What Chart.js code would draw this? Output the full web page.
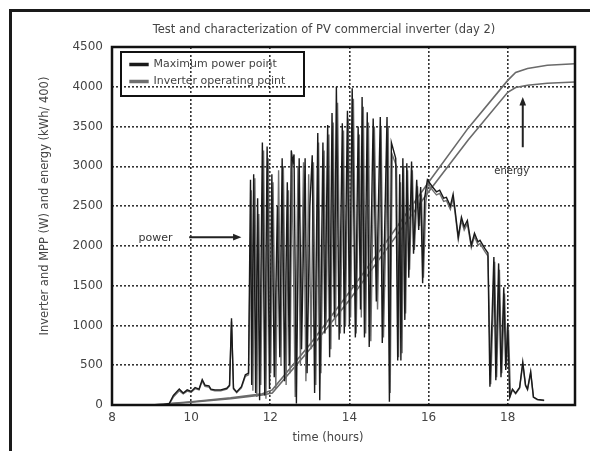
<!DOCTYPE html>
<html>
<head>
<meta charset="utf-8">
<script src="https://cdn.jsdelivr.net/npm/chart.js@4.4.0/dist/chart.umd.min.js"></script>
<style>
    body { margin: 0; background: #fff; }
    #wrap { position: relative; width: 590px; height: 451px; overflow: hidden; }
    #frame { position: absolute; left: 9px; top: 9px; width: 620px; height: 480px; border-left: 3px solid #1a1a1a; border-top: 3px solid #1a1a1a; }
    canvas { position: absolute; left: 0; top: 0; }
</style>
</head>
<body>
<div id="wrap">
    <div id="frame"></div>
    <canvas id="pvChart" width="590" height="451"></canvas>
</div>
<script>
// Maximum power point (W) vs time (hours)
const mppTime = [9.0, 9.3, 9.45, 9.55, 9.7, 9.8, 9.9, 10.0, 10.1, 10.2, 10.28, 10.35, 10.45, 10.5, 10.6, 10.75, 10.9, 10.97, 11.02, 11.07, 11.15, 11.27, 11.37, 11.45,
    11.5, 11.53, 11.58, 11.63, 11.68, 11.73, 11.8, 11.86, 11.92, 11.98, 12.04, 12.1, 12.18, 12.24, 12.3, 12.36, 12.43, 12.48, 12.53, 12.57, 12.6, 12.66, 12.73, 12.79, 12.88, 12.93,
    13.0, 13.06, 13.12, 13.2, 13.25, 13.33, 13.38, 13.45, 13.5, 13.56, 13.62, 13.67, 13.74, 13.82, 13.87, 13.95, 14.0, 14.07, 14.15, 14.22, 14.28, 14.32, 14.38, 14.45, 14.5,
    14.6, 14.68, 14.78, 14.83, 14.95, 15.01, 15.06, 15.17, 15.22, 15.27, 15.3, 15.35, 15.4, 15.45, 15.5, 15.57, 15.62, 15.7, 15.75, 15.8, 15.85, 15.9, 15.97,
    16.1, 16.2, 16.28, 16.38, 16.45, 16.55, 16.62, 16.67, 16.75, 16.83, 16.9, 16.98, 17.08, 17.16, 17.25, 17.3, 17.42, 17.5,
    17.55, 17.65, 17.7, 17.77, 17.83, 17.9, 17.95, 18.0, 18.05, 18.12, 18.2, 18.3, 18.38, 18.45, 18.5, 18.58, 18.65, 18.75, 18.92];
const mppPower = [0, 5, 20, 120, 200, 150, 190, 170, 220, 200, 320, 250, 240, 200, 190, 190, 210, 250, 1090, 210, 165, 230, 380, 400,
    2830, 250, 2900, 150, 2600, 60, 3300, 120, 3250, 200, 2900, 350, 2500, 600, 3100, 300, 2800, 500, 3200, 3050, 3150, 20, 3100, 700, 3100, 400,
    2500, 3140, 150, 3420, 60, 3300, 900, 3520, 600, 3670, 1100, 4000, 820, 3540, 900, 3700, 1000, 3980, 850, 3500, 1200, 3870, 850, 3680, 730,
    3600, 1300, 3620, 780, 3620, 40, 3300, 3100, 560, 2900, 560, 3100, 1070, 3040, 1600, 3060, 1900, 2830, 2200, 2740, 1530, 2600, 2830,
    2740, 2680, 2700, 2600, 2610, 2500, 2650, 2450, 2110, 2360, 2240, 2320, 2010, 2160, 2050, 2070, 1970, 1910,
    230, 1860, 310, 1780, 350, 1480, 440, 1030, 100, 200, 150, 220, 540, 250, 200, 420, 100, 70, 60];

// Inverter operating point (W) vs time (hours)
const invTime = [9.0, 9.3, 9.45, 9.55, 9.7, 9.8, 9.9, 10.0, 10.1, 10.2, 10.28, 10.35, 10.45, 10.5, 10.6, 10.75, 10.9, 10.97, 11.02, 11.07, 11.15, 11.27, 11.37, 11.45,
    11.52, 11.56, 11.61, 11.66, 11.71, 11.76, 11.83, 11.89, 11.95, 12.01, 12.07, 12.14, 12.21, 12.27, 12.33, 12.4, 12.46, 12.5, 12.55, 12.63, 12.7, 12.76, 12.84, 12.9, 12.97,
    13.03, 13.09, 13.15, 13.22, 13.28, 13.36, 13.41, 13.48, 13.53, 13.59, 13.65, 13.7, 13.77, 13.85, 13.9, 13.97, 14.03, 14.1, 14.17, 14.25, 14.3, 14.35, 14.41, 14.48, 14.54,
    14.63, 14.71, 14.8, 14.86, 14.98, 15.03, 15.08, 15.19, 15.24, 15.29, 15.33, 15.37, 15.42, 15.47, 15.52, 15.59, 15.64, 15.72, 15.77, 15.82, 15.87, 15.93, 15.99,
    16.1, 16.2, 16.28, 16.38, 16.45, 16.55, 16.62, 16.67, 16.75, 16.83, 16.9, 16.98, 17.08, 17.16, 17.25, 17.3, 17.42, 17.5,
    17.57, 17.67, 17.72, 17.79, 17.85, 17.92, 17.97, 18.02, 18.07, 18.12, 18.2, 18.3, 18.38, 18.45, 18.5, 18.58, 18.65, 18.75, 18.92];
const invPower = [0, 5, 15, 100, 180, 140, 175, 160, 205, 190, 300, 235, 225, 190, 180, 180, 200, 240, 1050, 200, 155, 215, 360, 380,
    2700, 180, 2850, 100, 2400, 250, 3200, 80, 3100, 400, 2800, 200, 2950, 500, 3000, 250, 2700, 400, 3100, 100, 3000, 500, 3050, 300, 2900,
    700, 3050, 250, 3300, 400, 3200, 1000, 3400, 700, 3550, 1000, 3800, 900, 3450, 1000, 3600, 1100, 3850, 900, 3400, 1100, 3750, 900, 3550, 800,
    3500, 1200, 3500, 850, 3500, 150, 3150, 3000, 600, 2800, 650, 3000, 1150, 2950, 1700, 2950, 1950, 2750, 2250, 2650, 1600, 2550, 2780,
    2700, 2640, 2660, 2560, 2570, 2460, 2600, 2410, 2080, 2320, 2200, 2280, 1980, 2120, 2010, 2030, 1930, 1870,
    260, 1800, 350, 1700, 400, 1400, 480, 950, 120, 190, 140, 210, 510, 240, 190, 400, 95, 65, 55];

// Energy (kWh/400) vs time (hours)
const energyTime = [9.0, 10.0, 11.0, 11.8, 12.05, 13.0, 14.0, 15.0, 16.0, 17.0, 18.0, 18.2, 18.5, 19.0, 19.7];
const mppEnergy = [0, 40, 90, 140, 190, 760, 1420, 2100, 2800, 3480, 4080, 4180, 4230, 4270, 4290];
const invEnergy = [0, 35, 80, 125, 150, 700, 1320, 2000, 2680, 3330, 3930, 3990, 4020, 4045, 4060];

const xTicks = [8, 10, 12, 14, 16, 18];
const yTicks = [0, 500, 1000, 1500, 2000, 2500, 3000, 3500, 4000, 4500];

function toPoints(times, values) {
    return times.map((t, i) => ({ x: t, y: values[i] }));
}

// Draws the plot frame, the legend box, the titles and the arrow notes
const extras = {
    id: 'extras',
    beforeDraw(chart) {
        const lg = chart.legend;
        const a = chart.chartArea;
        const dx = a.left + 12 - lg.left, dy = a.top + 6 - lg.top;
        lg.left += dx; lg.right += dx; lg.top += dy; lg.bottom += dy;
    },
    afterDraw(chart) {
        const { ctx, chartArea: a, scales: { x, y } } = chart;
        ctx.save();

        ctx.strokeStyle = '#111';
        ctx.lineWidth = 2.5;
        ctx.strokeRect(a.left, a.top, a.right - a.left, a.bottom - a.top);

        // legend box
        const lg = chart.legend;
        ctx.lineWidth = 2;
        ctx.strokeRect(lg.left - 3, lg.top - 1, 183, 44);

        ctx.fillStyle = '#444';
        ctx.font = '11.5px "DejaVu Sans"';
        ctx.textAlign = 'center';
        ctx.textBaseline = 'middle';
        ctx.fillText('Test and characterization of PV commercial inverter (day 2)', 324, 30);
        ctx.fillText('time (hours)', 328, 438);

        ctx.save();
        ctx.translate(45, 206);
        ctx.rotate(-Math.PI / 2);
        ctx.fillText('Inverter and MPP (W) and energy (kWh/ 400)', 0, 0);
        ctx.restore();

        // "power" note
        ctx.fillStyle = '#333';
        ctx.font = '11px "DejaVu Sans"';
        ctx.fillText('power', x.getPixelForValue(9.1), y.getPixelForValue(2100));
        drawArrow(ctx, x.getPixelForValue(9.95), y.getPixelForValue(2110), x.getPixelForValue(11.27), y.getPixelForValue(2110));

        // "energy" note
        ctx.font = '10px "DejaVu Sans"';
        ctx.fillText('energy', x.getPixelForValue(18.1), y.getPixelForValue(2930));
        drawArrow(ctx, x.getPixelForValue(18.38), y.getPixelForValue(3240), x.getPixelForValue(18.38), y.getPixelForValue(3870));

        ctx.restore();
    }
};

function drawArrow(ctx, x1, y1, x2, y2) {
    const ang = Math.atan2(y2 - y1, x2 - x1);
    const head = 9;
    ctx.save();
    ctx.strokeStyle = '#222';
    ctx.fillStyle = '#222';
    ctx.lineWidth = 2;
    ctx.beginPath();
    ctx.moveTo(x1, y1);
    ctx.lineTo(x2 - Math.cos(ang) * head * 0.8, y2 - Math.sin(ang) * head * 0.8);
    ctx.stroke();
    ctx.beginPath();
    ctx.moveTo(x2, y2);
    ctx.lineTo(x2 - head * Math.cos(ang - 0.38), y2 - head * Math.sin(ang - 0.38));
    ctx.lineTo(x2 - head * Math.cos(ang + 0.38), y2 - head * Math.sin(ang + 0.38));
    ctx.closePath();
    ctx.fill();
    ctx.restore();
}

const lineOpts = { pointRadius: 0, tension: 0, fill: false };

new Chart(document.getElementById('pvChart').getContext('2d'), {
    type: 'line',
    data: {
        datasets: [
            { label: 'Maximum power point', data: toPoints(mppTime, mppPower), borderColor: '#1a1a1a', backgroundColor: '#1a1a1a', borderWidth: 1.4, ...lineOpts },
            { label: 'Inverter operating point', data: toPoints(invTime, invPower), borderColor: '#6e6e6e', backgroundColor: '#6e6e6e', borderWidth: 1.4, ...lineOpts },
            { label: 'MPP energy', data: toPoints(energyTime, mppEnergy), borderColor: '#6a6a6a', borderWidth: 1.6, ...lineOpts },
            { label: 'Inverter energy', data: toPoints(energyTime, invEnergy), borderColor: '#6a6a6a', borderWidth: 1.6, ...lineOpts }
        ]
    },
    options: {
        responsive: false,
        animation: false,
        layout: { padding: { top: 47, right: 15, bottom: 0, left: 0 } },
        plugins: {
            title: { display: false },
            tooltip: { enabled: false },
            legend: {
                position: 'chartArea',
                align: 'start',
                labels: {
                    boxWidth: 18,
                    boxHeight: 2,
                    padding: 6,
                    color: '#444',
                    font: { family: 'DejaVu Sans', size: 11 },
                    filter: item => item.datasetIndex < 2
                }
            }
        },
        scales: {
            x: {
                type: 'linear',
                min: 8,
                max: 19.7,
                afterFit: scale => { scale.height = 46; },
                afterBuildTicks: scale => { scale.ticks = xTicks.map(v => ({ value: v })); },
                ticks: { color: '#444', padding: 6, font: { family: 'DejaVu Sans', size: 12 }, callback: v => String(v) },
                grid: { color: '#333', lineWidth: 1.6, drawTicks: false },
                border: { display: false, dash: [2, 2] }
            },
            y: {
                min: 0,
                max: 4500,
                afterFit: scale => { scale.width = 112; },
                afterBuildTicks: scale => { scale.ticks = yTicks.map(v => ({ value: v })); },
                ticks: { color: '#444', padding: 9, font: { family: 'DejaVu Sans', size: 12 }, callback: v => String(v) },
                grid: { color: '#333', lineWidth: 1.6, drawTicks: false },
                border: { display: false, dash: [2, 2] }
            }
        }
    },
    plugins: [extras]
});
</script>
</body>
</html>
